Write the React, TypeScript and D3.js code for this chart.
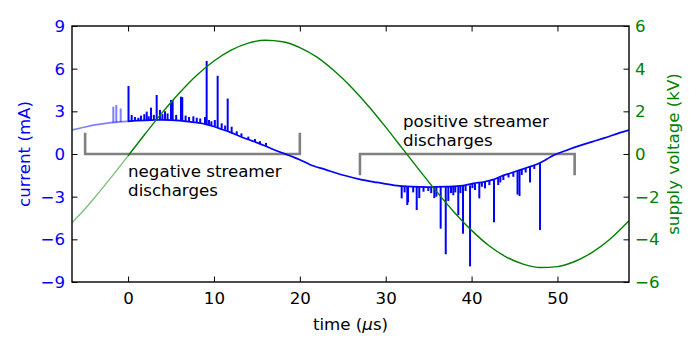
import { useEffect, useRef } from "react";
import * as d3 from "d3";

const WIDTH = 700;
const HEIGHT = 350;
const PLOT = { left: 72, right: 629, top: 26, bottom: 282 };
const FONT = "DejaVu Sans, sans-serif";
const FONT_SIZE = 16.67;
const BLUE = "#0000ff";
const GREEN = "#008000";

const TIME_DOMAIN: [number, number] = [-6.53, 58.33];
const CURRENT_DOMAIN: [number, number] = [-9, 9];
const VOLTAGE_DOMAIN: [number, number] = [-6, 6];

const TIME_TICKS = [0, 10, 20, 30, 40, 50];
const CURRENT_TICKS = [-9, -6, -3, 0, 3, 6, 9];
const VOLTAGE_TICKS = [-6, -4, -2, 0, 2, 4, 6];

// current (mA) over time (us), smooth part; before t = 0 is drawn faded
const currentBefore: [number, number][] = [
  [-6.5, 1.69], [-5, 1.9], [-4, 2.03], [-3, 2.12], [-2, 2.2], [-1, 2.26], [0, 2.3],
];
const currentAfter: [number, number][] = [
  [0, 2.3], [1, 2.34], [2, 2.37], [3, 2.39], [4, 2.4], [5, 2.38], [6, 2.34], [7, 2.28],
  [8, 2.2], [9, 2.1], [10, 1.93], [11, 1.72], [12, 1.5], [13, 1.25], [14, 1.02],
  [15, 0.8], [16, 0.56], [17, 0.3], [18, 0.07], [19, -0.16], [20, -0.4], [21.2, -0.75],
  [23, -1.1], [25, -1.48], [27, -1.78], [29, -2.0], [31, -2.2], [33, -2.3], [35, -2.33],
  [37, -2.3], [39, -2.22], [40.2, -2.06], [41.5, -1.95], [42.5, -1.8], [43.5, -1.55],
  [44.5, -1.35], [45.5, -1.15], [46.5, -0.95], [47.6, -0.72], [48.5, -0.45],
  [49.5, -0.1], [51, 0.25], [52.5, 0.57], [54.1, 0.87], [55.5, 1.13], [57.3, 1.5],
  [58.33, 1.68],
];

// discharge spikes: [time, current at foot, current at tip]
const spikesBefore: [number, number, number][] = [
  [-1.72, 2.2, 3.33], [-1.37, 2.22, 3.45], [-0.86, 2.25, 3.2],
];
const spikesNegative: [number, number, number][] = [
  [0.05, 2.3, 4.78], [0.42, 2.31, 2.74], [0.8, 2.32, 2.6], [1.2, 2.33, 2.55],
  [1.5, 2.35, 2.7], [1.89, 2.37, 2.8], [2.17, 2.37, 2.98], [2.4, 2.38, 2.65],
  [2.67, 2.38, 3.26], [3.0, 2.39, 2.75], [3.33, 2.39, 4.15], [3.71, 2.4, 3.1],
  [4.0, 2.4, 2.8], [4.3, 2.4, 3.0], [4.6, 2.39, 2.85], [5.0, 2.38, 3.8],
  [5.19, 2.38, 3.8], [5.6, 2.36, 2.75], [6.16, 2.34, 4.03], [6.31, 2.33, 4.0],
  [6.7, 2.3, 2.7], [7.1, 2.28, 2.6], [7.6, 2.25, 2.65], [8.0, 2.2, 2.55],
  [8.4, 2.17, 2.5], [8.96, 2.12, 2.6], [9.15, 2.1, 6.54], [9.42, 2.06, 2.39],
  [9.7, 2.02, 2.3], [10.1, 1.95, 2.39], [10.43, 1.87, 5.5], [10.9, 1.78, 2.16],
  [11.3, 1.7, 2.0], [11.6, 1.62, 3.9], [12.06, 1.5, 1.92], [12.65, 1.35, 1.6],
  [13.2, 1.22, 1.45], [14.0, 1.02, 1.22], [14.78, 0.85, 1.05], [15.36, 0.7, 0.9],
  [16.06, 0.55, 0.78],
];
const spikesPositive: [number, number, number][] = [
  [31.86, -2.26, -3.12], [32.2, -2.27, -2.7], [32.51, -2.28, -3.59], [32.6, -2.28, -3.4],
  [33.2, -2.3, -2.7], [33.61, -2.31, -3.94], [33.91, -2.31, -3.1], [34.4, -2.32, -2.65],
  [34.96, -2.33, -2.6], [35.3, -2.33, -2.75], [35.66, -2.33, -3.1], [35.9, -2.33, -3.0],
  [36.4, -2.32, -5.25], [36.99, -2.31, -7.05], [37.29, -2.3, -3.3], [37.6, -2.3, -2.75],
  [37.87, -2.29, -2.9], [38.1, -2.28, -2.7], [38.45, -2.27, -4.3], [38.7, -2.26, -2.75],
  [39.0, -2.24, -5.6], [39.3, -2.23, -2.6], [39.82, -2.2, -7.9], [40.1, -2.1, -2.4],
  [40.4, -2.05, -2.53], [40.9, -2.0, -3.12], [41.2, -1.98, -2.3], [41.56, -1.95, -2.42],
  [42.07, -1.88, -2.18], [42.61, -1.8, -4.8], [43.1, -1.68, -2.18], [43.35, -1.62, -2.0],
  [43.7, -1.52, -1.83], [44.3, -1.4, -1.65], [44.86, -1.28, -1.6], [45.35, -1.18, -2.85],
  [45.58, -1.14, -2.95], [45.84, -1.1, -1.48], [46.3, -1.0, -1.3], [46.8, -0.9, -2.0],
  [47.3, -0.8, -1.05], [47.97, -0.64, -5.35],
];

// supply voltage (kV) over time (us)
const voltageBefore: [number, number][] = [
  [-6.53, -3.22], [-5, -2.57], [-4, -2.1], [-2, -1.11], [0, -0.08],
];
const voltageAfter: [number, number][] = [
  [0, -0.08], [2, 0.95], [4, 1.95], [6, 2.87], [8, 3.69], [10, 4.36], [12, 4.87],
  [14, 5.2], [16, 5.33], [18, 5.26], [20, 4.99], [22, 4.54], [24, 3.9], [26, 3.13],
  [28, 2.24], [30, 1.26], [32, 0.23], [34, -0.8], [36, -1.8], [38, -2.74], [40, -3.58],
  [42, -4.29], [44, -4.82], [46, -5.16], [48, -5.32], [50, -5.28], [52, -5.04],
  [54, -4.62], [56, -4.03], [58.33, -3.13],
];

// brackets: time span at 0 mA, with ends bent towards `tip` (mA)
const brackets = [
  { from: -5, to: 20, tip: 1.5 },
  { from: 27, to: 52, tip: -1.5 },
];
const notes = [
  { lines: ["negative streamer", "discharges"], t: 0, mA: -1.6 },
  { lines: ["positive streamer", "discharges"], t: 32, mA: 1.92 },
];

export default function App() {
  const svgRef = useRef<SVGSVGElement>(null);

  useEffect(() => {
    document.body.style.margin = "0";
    const svg = d3.select(svgRef.current);
    svg.selectAll("*").remove();

    const x = d3.scaleLinear().domain(TIME_DOMAIN).range([PLOT.left, PLOT.right]);
    const yI = d3.scaleLinear().domain(CURRENT_DOMAIN).range([PLOT.bottom, PLOT.top]);
    const yV = d3.scaleLinear().domain(VOLTAGE_DOMAIN).range([PLOT.bottom, PLOT.top]);
    const pw = PLOT.right - PLOT.left;
    const ph = PLOT.bottom - PLOT.top;

    svg.append("rect").attr("width", WIDTH).attr("height", HEIGHT).attr("fill", "#ffffff");

    svg
      .append("defs")
      .append("clipPath")
      .attr("id", "plot-clip")
      .append("rect")
      .attr("x", PLOT.left)
      .attr("y", PLOT.top)
      .attr("width", pw)
      .attr("height", ph);

    const plot = svg.append("g").attr("clip-path", "url(#plot-clip)");

    // annotations
    brackets.forEach((b) => {
      plot
        .append("path")
        .attr("d", `M${x(b.from)},${yI(b.tip)}V${yI(0)}H${x(b.to)}V${yI(b.tip)}`)
        .attr("fill", "none")
        .attr("stroke", "#808080")
        .attr("stroke-width", 2.6);
    });

    notes.forEach((n) => {
      const text = svg
        .append("text")
        .attr("x", x(n.t))
        .attr("y", yI(n.mA))
        .attr("font-family", FONT)
        .attr("font-size", FONT_SIZE)
        .attr("fill", "#000000");
      n.lines.forEach((line, i) => {
        text.append("tspan").attr("x", x(n.t)).attr("dy", i === 0 ? 0 : 19.4).text(line);
      });
    });

    const lineI = d3
      .line<[number, number]>()
      .x((d) => x(d[0]))
      .y((d) => yI(d[1]))
      .curve(d3.curveMonotoneX);
    const lineV = d3
      .line<[number, number]>()
      .x((d) => x(d[0]))
      .y((d) => yV(d[1]))
      .curve(d3.curveMonotoneX);
    const spikePath = (s: [number, number, number]) =>
      d3.line()([
        [x(s[0]), yI(s[1])],
        [x(s[0]), yI(s[2])],
      ]);

    const drawCurrent = (base: [number, number][], spikes: [number, number, number][], opacity: number) => {
      const g = plot.append("g").attr("stroke", BLUE).attr("stroke-opacity", opacity).attr("fill", "none");
      g.append("path").attr("d", lineI(base)).attr("stroke-width", 1.7);
      spikes.forEach((s) => {
        g.append("path").attr("d", spikePath(s)).attr("stroke-width", 2);
      });
    };
    drawCurrent(currentBefore, spikesBefore, 0.5);
    drawCurrent(currentAfter, [...spikesNegative, ...spikesPositive], 1);

    plot
      .append("path")
      .attr("d", lineV(voltageBefore))
      .attr("fill", "none")
      .attr("stroke", GREEN)
      .attr("stroke-opacity", 0.5)
      .attr("stroke-width", 1.4);
    plot
      .append("path")
      .attr("d", lineV(voltageAfter))
      .attr("fill", "none")
      .attr("stroke", GREEN)
      .attr("stroke-width", 1.4);

    // axes with inward ticks
    const styleAxis = (g: d3.Selection<SVGGElement, unknown, null, undefined>, color: string) => {
      g.select(".domain").remove();
      g.selectAll("line").attr("stroke", "#000000").attr("stroke-width", 1);
      g.selectAll("text")
        .attr("fill", color)
        .attr("font-family", FONT)
        .attr("font-size", FONT_SIZE);
    };

    svg
      .append("g")
      .attr("transform", `translate(0,${PLOT.bottom})`)
      .call(d3.axisBottom(x).tickValues(TIME_TICKS).tickSize(-5.5).tickPadding(10.2))
      .call((g) => styleAxis(g, "#000000"));
    svg
      .append("g")
      .attr("transform", `translate(0,${PLOT.top})`)
      .call(d3.axisTop(x).tickValues(TIME_TICKS).tickSize(-5.5).tickFormat(() => ""))
      .call((g) => styleAxis(g, "#000000"));
    svg
      .append("g")
      .attr("transform", `translate(${PLOT.left},0)`)
      .call(d3.axisLeft(yI).tickValues(CURRENT_TICKS).tickSize(-5.5).tickPadding(7))
      .call((g) => styleAxis(g, BLUE));
    svg
      .append("g")
      .attr("transform", `translate(${PLOT.right},0)`)
      .call(d3.axisRight(yV).tickValues(VOLTAGE_TICKS).tickSize(-5.5).tickPadding(6))
      .call((g) => styleAxis(g, GREEN));

    svg
      .append("rect")
      .attr("x", PLOT.left)
      .attr("y", PLOT.top)
      .attr("width", pw)
      .attr("height", ph)
      .attr("fill", "none")
      .attr("stroke", "#000000")
      .attr("stroke-width", 1.4);

    // axis labels
    const xLabel = svg
      .append("text")
      .attr("x", (PLOT.left + PLOT.right) / 2)
      .attr("y", 330)
      .attr("text-anchor", "middle")
      .attr("font-family", FONT)
      .attr("font-size", FONT_SIZE)
      .attr("fill", "#000000");
    xLabel.append("tspan").text("time (");
    xLabel.append("tspan").attr("font-style", "italic").text("μ");
    xLabel.append("tspan").text("s)");

    svg
      .append("text")
      .attr("transform", `translate(30,${(PLOT.top + PLOT.bottom) / 2}) rotate(-90)`)
      .attr("text-anchor", "middle")
      .attr("font-family", FONT)
      .attr("font-size", FONT_SIZE)
      .attr("fill", BLUE)
      .text("current (mA)");

    svg
      .append("text")
      .attr("transform", `translate(679,${(PLOT.top + PLOT.bottom) / 2}) rotate(-90)`)
      .attr("text-anchor", "middle")
      .attr("font-family", FONT)
      .attr("font-size", FONT_SIZE)
      .attr("fill", GREEN)
      .text("supply voltage (kV)");
  }, []);

  return <svg ref={svgRef} width={WIDTH} height={HEIGHT} style={{ display: "block" }} />;
}
